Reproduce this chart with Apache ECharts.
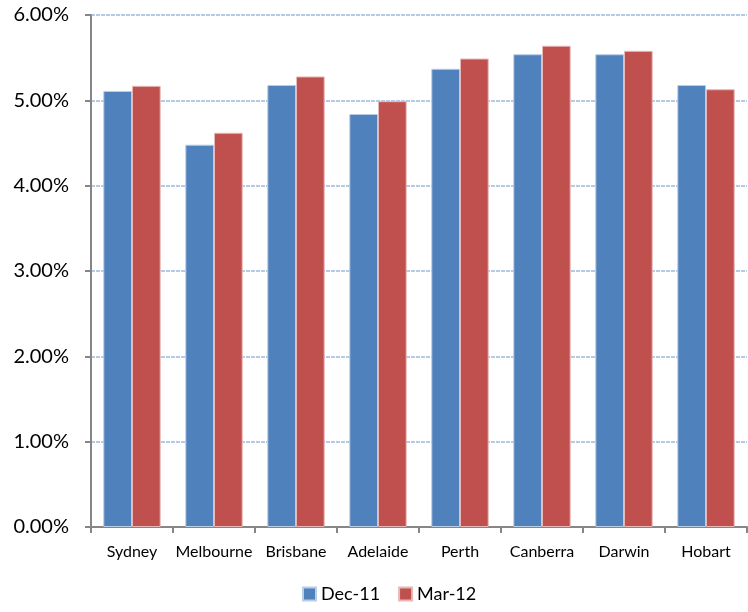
<!DOCTYPE html>
<html>
<head>
<meta charset="utf-8">
<script src="https://cdn.jsdelivr.net/npm/echarts@6/dist/echarts.min.js"></script>
<style>
  html, body { margin: 0; padding: 0; background: #fff; }
  #chart { width: 748px; height: 612px; }
</style>
</head>
<body>
<div id="chart"></div>
<script>
// City labels along the x axis
const cities = ['Sydney', 'Melbourne', 'Brisbane', 'Adelaide', 'Perth', 'Canberra', 'Darwin', 'Hobart'];
// Rates in percent for each period
const dec11 = [5.11, 4.48, 5.18, 4.84, 5.37, 5.54, 5.54, 5.18];
const mar12 = [5.17, 4.62, 5.28, 4.99, 5.49, 5.64, 5.58, 5.13];
// Series names shown in the legend
const seriesNames = ['Dec-11', 'Mar-12'];

const font = 'Lato, "Open Sans", sans-serif';
const chart = echarts.init(document.getElementById('chart'), null, { renderer: 'canvas' });

chart.setOption({
  animation: false,
  backgroundColor: '#ffffff',
  grid: { left: 91, right: 1, top: 15, bottom: 85, containLabel: false },
  legend: {
    data: seriesNames,
    bottom: 4,
    left: 297,
    itemWidth: 13,
    itemHeight: 13,
    itemGap: 18,
    icon: 'rect',
    textStyle: { fontFamily: font, fontSize: 18, color: '#000' }
  },
  xAxis: {
    type: 'category',
    data: cities,
    axisLine: { lineStyle: { color: '#868686', width: 2 } },
    axisTick: { show: true, length: 6, lineStyle: { color: '#868686', width: 2 } },
    axisLabel: { fontFamily: font, fontSize: 16, color: '#000', margin: 17, interval: 0 }
  },
  yAxis: {
    type: 'value',
    min: 0,
    max: 6,
    interval: 1,
    axisLine: { show: true, lineStyle: { color: '#868686', width: 2 } },
    axisTick: { show: true, length: 6, lineStyle: { color: '#868686', width: 2 } },
    axisLabel: {
      fontFamily: font, fontSize: 20, color: '#000', margin: 22,
      formatter: v => v.toFixed(2) + '%'
    },
    splitLine: { lineStyle: { color: '#9DB9DD', width: 1.5, type: [4, 1] } }
  },
  series: [
    {
      name: seriesNames[0],
      type: 'bar',
      data: dec11,
      barGap: '0%',
      barCategoryGap: '30%',
      itemStyle: { color: '#4F81BD', borderColor: '#B9CDE5', borderWidth: 1 }
    },
    {
      name: seriesNames[1],
      type: 'bar',
      data: mar12,
      itemStyle: { color: '#C0504D', borderColor: '#E6B9B8', borderWidth: 1 }
    }
  ]
});
</script>
</body>
</html>
